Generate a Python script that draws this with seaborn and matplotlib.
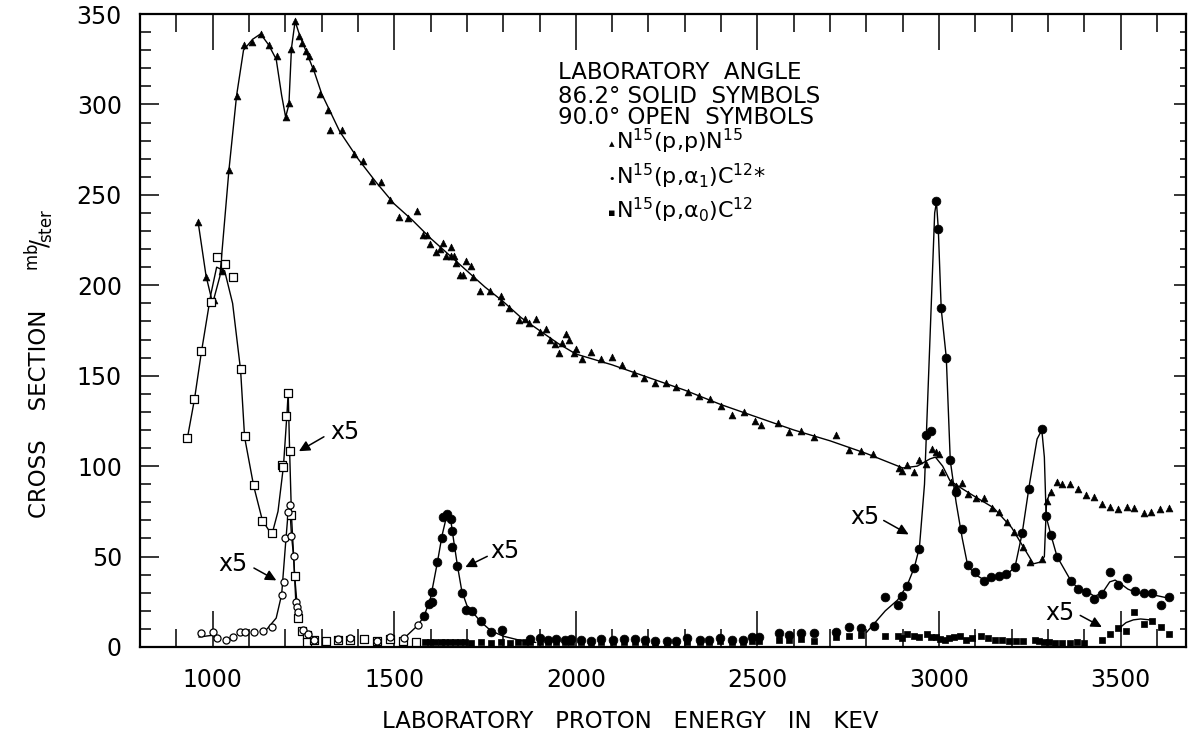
import numpy as np
import matplotlib
matplotlib.use("Agg")
import matplotlib.pyplot as plt
import seaborn as sns
from matplotlib.ticker import MultipleLocator

# ---- 86.2 deg, solid symbols ----
# N15(p,p)N15  (triangles)
tri_E = [960, 982, 1003, 1026, 1045, 1066, 1085, 1109, 1132, 1154, 1177, 1201, 1211, 1217, 1227,
         1239, 1247, 1257, 1265, 1275, 1295, 1317, 1324, 1355, 1389, 1415, 1439, 1464, 1488, 1513,
         1538, 1563, 1578, 1589, 1598, 1614, 1627, 1634, 1642, 1655, 1655, 1665, 1669, 1680, 1688,
         1697, 1710, 1717, 1737, 1763, 1793, 1793, 1816, 1843, 1859, 1871, 1889, 1900, 1917, 1930,
         1942, 1955, 1962, 1974, 1980, 1994, 2001, 2016, 2041, 2070, 2099, 2128, 2160, 2189, 2218,
         2249, 2277, 2310, 2340, 2370, 2400, 2431, 2462, 2494, 2509, 2558, 2588, 2621, 2657, 2717,
         2753, 2784, 2818, 2889, 2898, 2911, 2930, 2946, 2965, 2980, 2992, 3001, 3007, 3034, 3047,
         3062, 3081, 3102, 3124, 3146, 3166, 3187, 3207, 3230, 3251, 3284, 3296, 3308, 3324, 3338,
         3361, 3383, 3406, 3427, 3450, 3472, 3494, 3517, 3538, 3563, 3585, 3608, 3632]
tri_y = [235, 204.6, 192, 208, 264, 304.6, 332.6, 334.4, 339, 333, 326.7, 293, 301, 330.7, 345.9,
         338, 333.7, 329.6, 326.7, 320, 306, 296.7, 286, 286, 272.7, 268.7, 257.6, 257, 247, 238,
         237, 241, 227.6, 228, 222.6, 218.4, 220.3, 223.6, 216.2, 221.4, 216, 216.2, 212.5, 205.5, 205.5,
         213.4, 210.7, 204.8, 197, 197, 194.1, 190.8, 187.7, 180.8, 181.6, 179, 181.2, 174.4, 175.7, 169.8,
         167.4, 162.8, 168, 173, 169.8, 162.8, 165, 159.5, 163.3, 159.5, 160.6, 155.8, 151.4, 149, 146.2,
         145.9, 144, 141, 139, 137, 133, 128.2, 130.2, 125, 122.8, 123.8, 119, 119.6, 116.2, 117.1,
         109, 108.1, 106.6, 98.7, 97.4, 100.9, 96.5, 103.3, 101.1, 109.4, 107.9, 106.6, 96.9, 91, 88.8,
         90.5, 84.5, 82.2, 82.2, 76.8, 74.8, 68.9, 63.7, 55.1, 46.8, 48.6, 80.5, 85.5, 91, 90.1,
         89.9, 87.3, 84, 82.7, 78.8, 77.2, 76.1, 77.3, 76.8, 74, 74.8, 76.2, 77]

# N15(p,a1)C12*  (solid circles)
c1_E = [1582, 1596, 1604, 1604, 1619, 1632, 1633, 1645, 1657, 1659, 1658, 1674, 1686, 1697, 1715,
        1738, 1766, 1798, 1875, 1900, 1923, 1946, 1969, 1988, 2015, 2043, 2070, 2102, 2132, 2162,
        2191, 2217, 2250, 2277, 2307, 2341, 2368, 2398, 2429, 2459, 2486, 2504, 2560, 2588, 2620,
        2657, 2717, 2753, 2786, 2820, 2852, 2886, 2898, 2912, 2932, 2946, 2965, 2978, 2992, 2998,
        3006, 3020, 3031, 3047, 3064, 3079, 3100, 3125, 3143, 3166, 3185, 3209, 3229, 3249, 3283,
        3295, 3308, 3325, 3362, 3384, 3405, 3428, 3450, 3472, 3494, 3517, 3540, 3563, 3586, 3611,
        3632]
c1_y = [17, 23.8, 25, 30.6, 46.8, 60, 71.7, 73.5, 70.7, 64.3, 55.1, 44.6, 29.8, 20.4, 19.7,
        14.2, 8.5, 9.4, 4.5, 5, 4, 4.5, 4, 4.5, 4, 3.5, 4.5, 4, 4.5, 4.5,
        4, 3.5, 3.5, 3.4, 4.7, 4.1, 4.1, 4.7, 4.1, 4.1, 5.3, 5.3, 7.6, 6.6, 7.9,
        7.9, 8.1, 10.9, 10.3, 11.8, 27.5, 23.2, 28.2, 33.5, 43.5, 54.1, 117.3, 119.5, 246.6, 230.9,
        187.3, 159.7, 103.3, 85.5, 65.2, 45.3, 41.3, 36.6, 38.5, 39.4, 40.3, 44, 63, 87.3, 120.4,
        72.2, 62, 49.6, 36.6, 31.9, 30.6, 26.5, 29.1, 41.3, 34.3, 38, 30.8, 29.8, 29.7, 23.2,
        27.8]

# N15(p,a0)C12  (solid squares)
c0_E = [1584, 1598, 1611, 1629, 1639, 1653, 1666, 1680, 1694, 1712, 1740, 1767, 1795, 1818, 1841,
        1859, 1875, 1900, 1923, 1946, 1969, 1988, 2015, 2043, 2070, 2102, 2132, 2162, 2191, 2217,
        2250, 2277, 2307, 2341, 2368, 2398, 2429, 2459, 2486, 2504, 2560, 2588, 2620, 2657, 2717,
        2753, 2786, 2852, 2886, 2898, 2911, 2930, 2944, 2966, 2978, 2991, 3003, 3016, 3028, 3041,
        3058, 3075, 3092, 3116, 3135, 3154, 3173, 3193, 3212, 3232, 3264, 3274, 3288, 3304, 3318,
        3339, 3360, 3379, 3398, 3450, 3471, 3494, 3515, 3538, 3563, 3586, 3611, 3632]
c0_y = [3, 2.5, 3, 2.5, 3, 2.5, 2.5, 3, 2.5, 2, 2.5, 2, 2.5, 2, 2.5,
        2.5, 2.5, 2.5, 3, 2.5, 2.5, 3, 2.5, 2.5, 3, 2.5, 2.5, 3, 2.5, 2,
        2, 2.5, 3, 3, 2.5, 3.5, 3, 3, 3.5, 3.5, 4, 4, 4.5, 3.5, 5.5,
        6.2, 6.6, 5.9, 6.2, 4.8, 7.1, 5.9, 5.4, 7.1, 5.4, 5.4, 4.4, 4.1, 4.8, 5.4,
        5.9, 4.1, 4.8, 5.9, 4.8, 4.1, 4.1, 3.1, 3.1, 3.1, 3.7, 3.1, 2.8, 2.8, 2,
        2, 2, 2.6, 2, 4.1, 7.2, 10.3, 9, 19.2, 12.7, 14.2, 10.9, 7.2]

# ---- 90.0 deg, open symbols ----
osq_E = [930, 950, 969, 995, 1011, 1033, 1055, 1077, 1088, 1113, 1137, 1163, 1190, 1195, 1201,
         1208, 1212, 1217, 1226, 1236, 1246, 1259, 1259, 1278, 1311, 1346, 1379, 1418, 1452, 1487,
         1523, 1559]
osq_y = [115.5, 137.4, 163.4, 190.8, 215.8, 211.6, 204.6, 153.6, 116.4, 89.5, 69.8, 62.8, 100.6, 99.3, 127.5,
         140.7, 108.5, 73, 39, 15.8, 9, 6.6, 3, 3.9, 3.5, 3.9, 3.9, 4.4, 3.5, 4.4,
         3.1, 2.9]

oc_E = [969, 1001, 1012, 1036, 1056, 1075, 1089, 1113, 1139, 1163, 1190, 1196, 1200, 1208, 1212,
        1217, 1223, 1229, 1231, 1234, 1248, 1263, 1278, 1345, 1379, 1452, 1488, 1528, 1565]
oc_y = [7.5, 8.1, 4.8, 3.9, 5.7, 8.5, 8.1, 8.1, 9, 10.9, 28.9, 35.7, 60, 74.8, 78.6,
        61.5, 50.5, 25, 22.3, 19.2, 9.4, 7.2, 3.6, 4.4, 5, 3.5, 5.3, 4.8, 12.2]

# ---- hand drawn curves ----
fit_tri_E = [960, 982, 1000, 1020, 1045, 1066, 1085, 1110, 1132, 1154, 1175, 1190, 1201, 1210, 1217,
             1227, 1240, 1260, 1280, 1300, 1350, 1400, 1450, 1500, 1550, 1600, 1650, 1700, 1750, 1800,
             1850, 1900, 1950, 2000, 2100, 2200, 2300, 2400, 2500, 2600, 2700, 2800, 2900, 2940, 2975,
             2990, 3010, 3030, 3060, 3100, 3150, 3200, 3230, 3260, 3280, 3290, 3296, 3305]
fit_tri_y = [235, 205, 190, 205, 264, 305, 330, 336, 339, 333, 325, 305, 293, 300, 331,
             346, 338, 328, 318, 306, 285, 270, 257, 245, 236, 226, 217, 208, 199, 191,
             182, 175, 168, 162, 156, 149, 142, 134, 127, 120, 114, 107, 99, 100, 104,
             105, 100, 92, 88, 83, 77, 66, 56, 46, 47, 50, 80, 85]

fit_osq_E = [930, 950, 969, 995, 1011, 1033, 1055, 1077, 1088, 1113, 1137, 1163, 1180, 1195, 1205,
             1208, 1212, 1217, 1226, 1236]
fit_osq_y = [115, 137, 163, 195, 210, 208, 190, 153, 116, 89, 70, 62, 75, 100, 130,
             141, 108, 73, 39, 15]

fit_oc_E = [1150, 1175, 1190, 1200, 1208, 1212, 1217, 1223, 1229, 1236]
fit_oc_y = [10, 16, 29, 55, 75, 79, 62, 50, 25, 15]

fit_oc_low_E = [962, 1000]
fit_oc_low_y = [5.5, 6.5]

fit_c1a_E = [1528, 1565, 1582, 1600, 1619, 1632, 1645, 1655, 1665, 1674, 1686, 1700, 1738, 1766, 1800,
             1850, 1890]
fit_c1a_y = [5, 12, 17, 27, 47, 62, 73, 71, 57, 45, 31, 23, 14, 9, 6,
             3.5, 2.5]

fit_c1b_E = [2800, 2852, 2886, 2912, 2932, 2946, 2960, 2975, 2988, 2993, 2998, 3006, 3020, 3031, 3047,
             3064, 3079, 3100, 3125, 3150, 3185, 3209, 3229, 3249, 3270, 3283, 3290, 3295, 3308, 3325,
             3362, 3384, 3405, 3428, 3450, 3470, 3485, 3500, 3520, 3545, 3586, 3632]
fit_c1b_y = [8, 20, 26, 34, 44, 55, 90, 170, 240, 246, 231, 187, 160, 103, 80,
             60, 45, 40, 37, 38, 40, 44, 63, 90, 115, 120, 105, 72, 62, 50,
             37, 32, 31, 28, 30, 36, 37, 35, 32, 30, 29, 27]

fit_c0_E = [3500, 3515, 3535, 3555, 3580]
fit_c0_y = [11, 13.5, 15, 15.5, 15]

# "x5" notes: text position, arrow tail, arrow head
note_xy = [(1364, 119), (1056, 46), (1804, 53), (2797, 72), (3334, 19)]
note_tail = [(1313, 117), (1107, 44.4), (1763, 50.8), (2841, 70.7), (3382, 18.2)]
note_head = [(1231, 107.5), (1182, 36.1), (1689, 43.5), (2923, 61.5), (3455, 10.3)]

legend_head = ["LABORATORY  ANGLE", "86.2\u00b0 SOLID  SYMBOLS", "90.0\u00b0 OPEN  SYMBOLS"]
legend_head_y = [313.8, 300.9, 289.0]
legend_items = [r"N$^{15}$(p,p)N$^{15}$", r"N$^{15}$(p,$\alpha_{1}$)C$^{12}$*",
                r"N$^{15}$(p,$\alpha_{0}$)C$^{12}$"]
legend_marks = ["\u25b4", "\u2022", "\u25aa"]
legend_item_y = [275.0, 256.0, 237.0]

x_ticks = [1000, 1500, 2000, 2500, 3000, 3500]
y_ticks = [0, 50, 100, 150, 200, 250, 300, 350]

sns.set_style("ticks", {"axes.edgecolor": "black", "text.color": "black",
                        "xtick.color": "black", "ytick.color": "black",
                        "axes.labelcolor": "black"})
plt.rcParams['font.family'] = ['DejaVu Sans']
plt.rcParams['mathtext.default'] = 'regular'

W, H = 1188, 744
fig = plt.figure(figsize=(W / 100, H / 100), dpi=100)
ax = fig.add_axes([140 / W, 1 - 647 / H, 1046 / W, 633 / H])

lk = dict(color='black', lw=1.0, sort=False, estimator=None, ax=ax, zorder=2, legend=False)
sns.lineplot(x=fit_tri_E, y=fit_tri_y, **lk)
sns.lineplot(x=fit_osq_E, y=fit_osq_y, **lk)
sns.lineplot(x=fit_oc_E, y=fit_oc_y, **lk)
sns.lineplot(x=fit_oc_low_E, y=fit_oc_low_y, **lk)
sns.lineplot(x=fit_c1a_E, y=fit_c1a_y, **lk)
sns.lineplot(x=fit_c1b_E, y=fit_c1b_y, **lk)
sns.lineplot(x=fit_c0_E, y=fit_c0_y, **lk)

sns.scatterplot(x=tri_E, y=tri_y, marker='^', s=24, color='black', edgecolor='black',
                linewidth=0.5, ax=ax, zorder=3)
sns.scatterplot(x=c1_E, y=c1_y, marker='o', s=40, color='black', edgecolor='black',
                linewidth=0.5, ax=ax, zorder=3)
sns.scatterplot(x=c0_E, y=c0_y, marker='s', s=16, color='black', edgecolor='black',
                linewidth=0.5, ax=ax, zorder=3)
sns.scatterplot(x=osq_E, y=osq_y, marker='s', s=28, facecolor='white', edgecolor='black',
                linewidth=0.9, ax=ax, zorder=4)
sns.scatterplot(x=oc_E, y=oc_y, marker='o', s=26, facecolor='white', edgecolor='black',
                linewidth=0.9, ax=ax, zorder=4)

for (tx, ty), tail, head in zip(note_xy, note_tail, note_head):
    ax.text(tx, ty, "x5", fontsize=17, ha='center', va='center', color='black')
    ax.annotate("", xy=head, xytext=tail,
                arrowprops=dict(arrowstyle='-|>', color='black', lw=1.1, mutation_scale=16))

for txt, yy in zip(legend_head, legend_head_y):
    ax.text(1951, yy, txt, fontsize=16.5, ha='left', va='baseline', color='black')
for mk, txt, yy in zip(legend_marks, legend_items, legend_item_y):
    ax.text(2098, yy + 3, mk, fontsize=8, ha='center', va='center', color='black')
    ax.text(2110, yy, txt, fontsize=16, ha='left', va='baseline', color='black')

ax.set_xlim(800, 3680)
ax.set_ylim(0, 350)
ax.set_xticks(x_ticks)
ax.set_xticklabels([str(v) for v in x_ticks])
ax.set_yticks(y_ticks)
ax.set_yticklabels([str(v) for v in y_ticks])
ax.xaxis.set_minor_locator(MultipleLocator(100))
ax.yaxis.set_minor_locator(MultipleLocator(10))
ax.tick_params(axis='x', which='major', direction='in', length=26, width=1.1,
               top=True, bottom=True, labelsize=17, pad=15, colors='black')
ax.tick_params(axis='x', which='minor', direction='in', length=13, width=1.1,
               top=True, bottom=True, colors='black')
ax.tick_params(axis='y', which='major', direction='in', length=14, width=1.1,
               left=True, right=False, labelsize=17, pad=13, colors='black')
ax.tick_params(axis='y', which='minor', direction='in', length=8, width=1.1,
               left=True, right=False, colors='black')
for sp in ax.spines.values():
    sp.set_visible(True)
    sp.set_linewidth(1.6)
    sp.set_color('black')
ax.set_xlabel("")
ax.set_ylabel("")

axr = ax.twinx()
axr.set_ylim(0, 350)
axr.set_yticks(y_ticks)
axr.yaxis.set_minor_locator(MultipleLocator(10))
axr.tick_params(axis='y', which='major', direction='in', length=9, width=1.1,
                labelright=False, colors='black')
axr.tick_params(axis='y', which='minor', direction='in', length=4, width=1.1, colors='black')
for sp in axr.spines.values():
    sp.set_visible(False)

fig.text(630 / W, 1 - 721 / H, "LABORATORY   PROTON   ENERGY   IN   KEV",
         fontsize=16.5, ha='center', va='center', color='black')
fig.text(40 / W, 1 - 414 / H, "CROSS    SECTION", fontsize=16.5, rotation=90,
         ha='center', va='center', color='black')
fig.text(40 / W, 1 - 240 / H, r"$^{mb}\!/\!_{ster}$", fontsize=17, rotation=90,
         ha='center', va='center', color='black')

fig.savefig("out.png", dpi=100, facecolor='white')
